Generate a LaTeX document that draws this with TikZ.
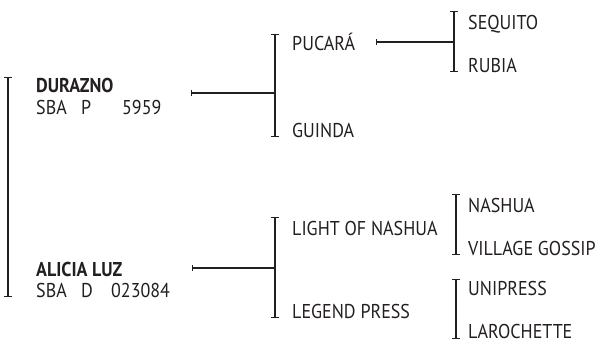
\documentclass[tikz,border=0pt]{standalone}
\usepackage{fontspec}
\setmainfont{PT Sans}[FakeStretch=0.9]
\usetikzlibrary{arrows.meta}
\definecolor{ink}{HTML}{231F20}
\begin{document}
\begin{tikzpicture}[x=1pt,y=-1pt,
  lbl/.style={anchor=base west, inner sep=0pt, text depth=0pt, text=ink, font=\fontsize{20}{22}\selectfont},
  bold/.style={font=\fontsize{20}{22}\selectfont\bfseries},
  brk/.style={draw=ink, line width=1.1pt, {Bar[width=8pt]}-{Bar[width=8pt]}},
  conn/.style={draw=ink, line width=1.1pt, {Bar[width=6pt]}-}]
\useasboundingbox (0,0) rectangle (605,341);
% texts
\node[lbl,bold] (durazno) at (36,92) {DURAZNO};
\node[lbl] (durreg) at (36,114) {\makebox[45pt][l]{SBA}\makebox[41pt][l]{P}5959};
\node[lbl,bold] (alicia) at (36,276) {ALICIA LUZ};
\node[lbl] (alireg) at (36,297) {\makebox[45pt][l]{SBA}\makebox[30pt][l]{D}023084};
\node[lbl] (pucara) at (292,50) {PUCARÁ};
\node[lbl] (guinda) at (292,137) {GUINDA};
\node[lbl] (sequito) at (468,29) {SEQUITO};
\node[lbl] (rubia) at (468,72) {RUBIA};
\node[lbl] (light) at (292,235) {LIGHT OF NASHUA};
\node[lbl] (legend) at (292,318) {LEGEND PRESS};
\node[lbl] (nashua) at (468,212) {NASHUA};
\node[lbl] (village) at (468,255) {VILLAGE GOSSIP};
\node[lbl] (unipress) at (468,295) {UNIPRESS};
\node[lbl] (larochette) at (468,338) {LAROCHETTE};
% bracket coordinates
\coordinate (b0t) at (8,77);   \coordinate (b0b) at (8,297);
\coordinate (b1t) at (275,34); \coordinate (b1b) at (275,137); \coordinate (b1j) at (275,93);
\coordinate (b2t) at (454,11); \coordinate (b2b) at (454,72);  \coordinate (b2j) at (454,42);
\coordinate (b3t) at (275,217);\coordinate (b3b) at (275,318); \coordinate (b3j) at (275,268);
\coordinate (b4t) at (456,194);\coordinate (b4b) at (456,255);
\coordinate (b5t) at (456,279);\coordinate (b5b) at (456,339);
\coordinate (c1) at (191,93);
\coordinate (c2) at (376,42);
\coordinate (c3) at (192,268);
% brackets
\draw[brk] (b0t) -- (b0b);
\draw[brk] (b1t) -- (b1b);
\draw[brk] (b2t) -- (b2b);
\draw[brk] (b3t) -- (b3b);
\draw[brk] (b4t) -- (b4b);
\draw[brk] (b5t) -- (b5b);
% connectors
\draw[conn] (c1) -- (b1j);
\draw[conn] (c2) -- (b2j);
\draw[conn] (c3) -- (b3j);
\end{tikzpicture}
\end{document}
